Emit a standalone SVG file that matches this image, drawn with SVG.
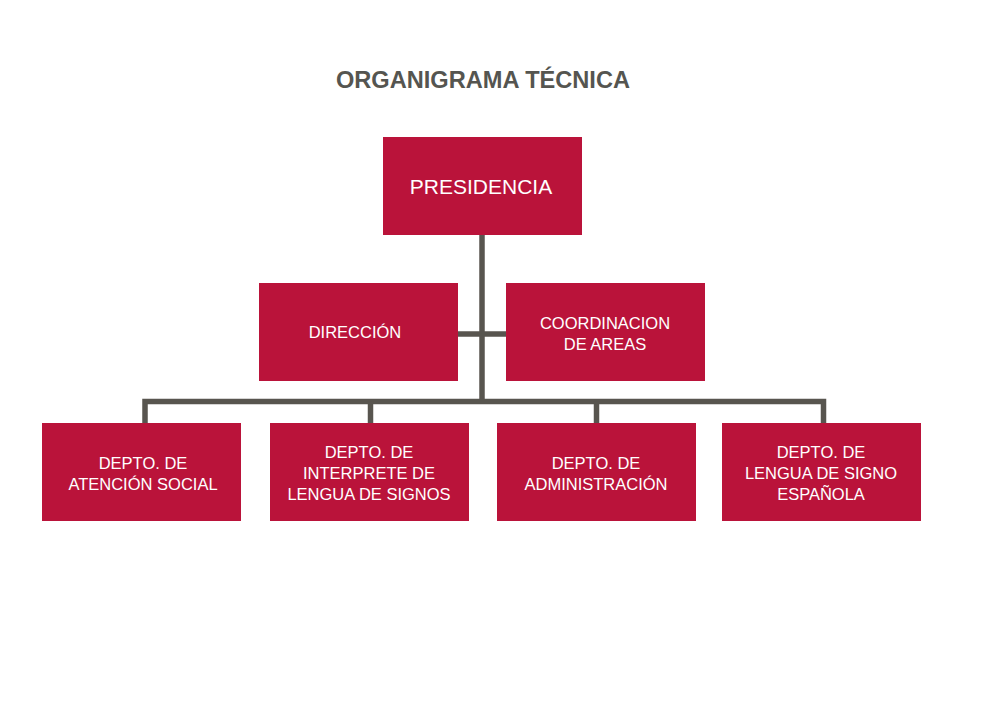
<svg xmlns="http://www.w3.org/2000/svg" width="1000" height="707" viewBox="0 0 1000 707">
<style>
.box{fill:#BA133A;}
.lbl{font-family:"Liberation Sans",Arial,sans-serif;font-size:16.5px;fill:#ffffff;text-anchor:middle;}
.big{font-size:21px;}
.title{font-family:"Liberation Sans",Arial,sans-serif;font-size:23.6px;font-weight:bold;fill:#555550;text-anchor:middle;}
.ln{stroke:#58554F;stroke-width:5.5;fill:none;stroke-linecap:butt;}
</style>
<rect width="1000" height="707" fill="#ffffff"/>
<text class="title" x="483" y="88">ORGANIGRAMA TÉCNICA</text>
<g id="connectors">
<line class="ln" x1="482" y1="235" x2="482" y2="404"/>
<line class="ln" x1="458" y1="334" x2="506" y2="334"/>
<polyline class="ln" points="145,423 145,401.5 823.5,401.5 823.5,423"/>
<line class="ln" x1="370.5" y1="401.5" x2="370.5" y2="423"/>
<line class="ln" x1="596.5" y1="401.5" x2="596.5" y2="423"/>
</g>
<g id="presidencia">
<rect class="box" x="383" y="137" width="199" height="98"/>
<text class="lbl big" x="481" y="194">PRESIDENCIA</text>
</g>
<g id="direccion">
<rect class="box" x="259" y="283" width="199" height="98"/>
<text class="lbl" x="355" y="338">DIRECCIÓN</text>
</g>
<g id="coordinacion">
<rect class="box" x="506" y="283" width="199" height="98"/>
<text class="lbl" x="605" y="329">COORDINACION</text>
<text class="lbl" x="605" y="350">DE AREAS</text>
</g>
<g id="atencion-social">
<rect class="box" x="42" y="423" width="199" height="98"/>
<text class="lbl" x="143" y="469">DEPTO. DE</text>
<text class="lbl" x="143" y="490">ATENCIÓN SOCIAL</text>
</g>
<g id="interprete">
<rect class="box" x="270" y="423" width="199" height="98"/>
<text class="lbl" x="369" y="458">DEPTO. DE</text>
<text class="lbl" x="369" y="479">INTERPRETE DE</text>
<text class="lbl" x="369" y="500">LENGUA DE SIGNOS</text>
</g>
<g id="administracion">
<rect class="box" x="497" y="423" width="199" height="98"/>
<text class="lbl" x="596" y="469">DEPTO. DE</text>
<text class="lbl" x="596" y="490">ADMINISTRACIÓN</text>
</g>
<g id="lengua-signo">
<rect class="box" x="722" y="423" width="199" height="98"/>
<text class="lbl" x="821" y="458">DEPTO. DE</text>
<text class="lbl" x="821" y="479">LENGUA DE SIGNO</text>
<text class="lbl" x="821" y="500">ESPAÑOLA</text>
</g>
</svg>
